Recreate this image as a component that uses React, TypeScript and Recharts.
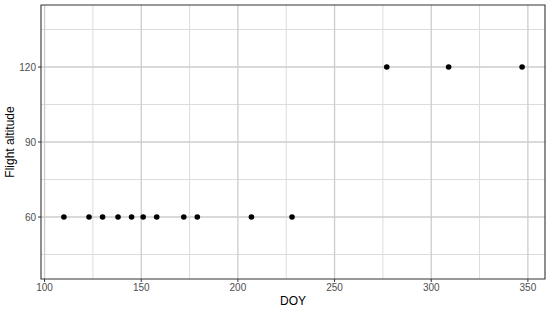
import {
  ScatterChart,
  Scatter,
  XAxis,
  YAxis,
  CartesianGrid,
  ReferenceArea,
} from "recharts";

const doy = [110, 123, 130, 138, 145, 151, 158, 172, 179, 207, 228, 277, 309, 347];
const altitude = [60, 60, 60, 60, 60, 60, 60, 60, 60, 60, 60, 120, 120, 120];

const xTicks = [100, 150, 200, 250, 300, 350];
const xMinor = [125, 175, 225, 275, 325];
const yTicks = [60, 90, 120];
const yMinor = [45, 75, 105, 135];

const X_DOMAIN: [number, number] = [98.15, 358.85];
const Y_DOMAIN: [number, number] = [35.2, 144.8];

const FONT = "'Liberation Sans', Arial, sans-serif";

const data = doy.map((d, i) => ({ doy: d, alt: altitude[i] }));

function Dot(props: any) {
  const { cx, cy } = props;
  return <circle cx={cx} cy={cy} r={2.8} fill="#000" />;
}

function YTitle(props: any) {
  const { viewBox } = props;
  const y = viewBox.y + viewBox.height / 2;
  return (
    <text
      x={10}
      y={y}
      transform={`rotate(-90, 10, ${y})`}
      textAnchor="middle"
      dominantBaseline="central"
      fontSize={12}
      fontFamily={FONT}
      fill="#000"
    >
      Flight altitude
    </text>
  );
}

function XTitle(props: any) {
  const { viewBox } = props;
  return (
    <text
      x={viewBox.x + viewBox.width / 2}
      y={301}
      textAnchor="middle"
      dominantBaseline="central"
      fontSize={12}
      fontFamily={FONT}
      fill="#000"
    >
      DOY
    </text>
  );
}

export default function App() {
  const tickStyle = { fontSize: 10, fill: "#4d4d4d", fontFamily: FONT };
  return (
    <div style={{ position: "absolute", left: 0, top: 0, background: "#fff" }}>
      <ScatterChart
        width={550}
        height={311}
        margin={{ top: 5, right: 5, bottom: 0, left: 0 }}
      >
        <CartesianGrid
          stroke="#dcdcdc"
          strokeWidth={1}
          horizontalValues={yMinor}
          verticalValues={xMinor}
        />
        <CartesianGrid
          stroke="#cccccc"
          strokeWidth={1.3}
          horizontalValues={yTicks}
          verticalValues={xTicks}
        />
        <XAxis
          type="number"
          dataKey="doy"
          domain={X_DOMAIN}
          ticks={xTicks}
          allowDataOverflow
          height={32}
          tick={tickStyle}
          tickSize={3}
          tickMargin={2}
          tickLine={{ stroke: "#333" }}
          axisLine={false}
          label={<XTitle />}
        />
        <YAxis
          type="number"
          dataKey="alt"
          domain={Y_DOMAIN}
          ticks={yTicks}
          allowDataOverflow
          width={41}
          tick={tickStyle}
          tickSize={3}
          tickMargin={2}
          tickLine={{ stroke: "#333" }}
          axisLine={false}
          label={<YTitle />}
        />
        <ReferenceArea
          x1={X_DOMAIN[0]}
          x2={X_DOMAIN[1]}
          y1={Y_DOMAIN[0]}
          y2={Y_DOMAIN[1]}
          fill="none"
          stroke="#333"
          strokeWidth={1.1}
        />
        <Scatter data={data} shape={<Dot />} isAnimationActive={false} />
      </ScatterChart>
    </div>
  );
}
